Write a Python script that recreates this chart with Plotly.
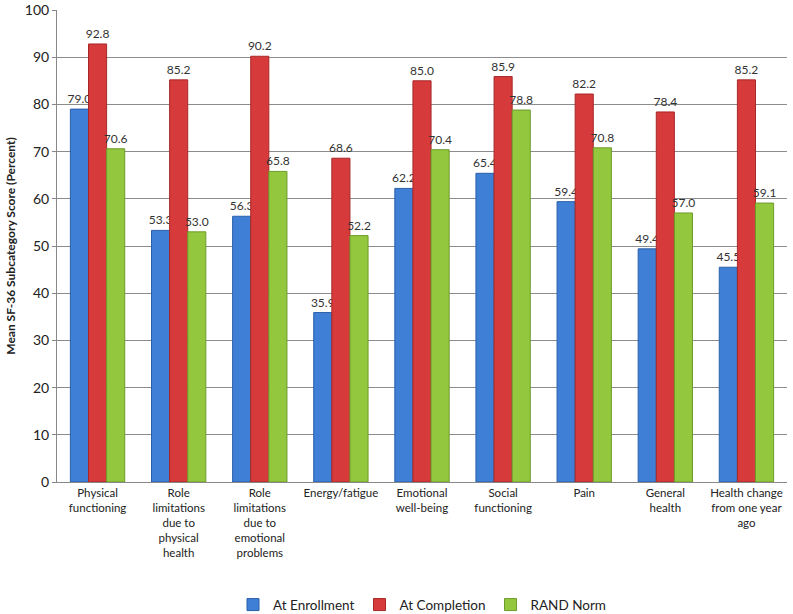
import plotly.graph_objects as go

categories = ["Physical<br>functioning", "Role<br>limitations<br>due to<br>physical<br>health",
              "Role<br>limitations<br>due to<br>emotional<br>problems", "Energy/fatigue",
              "Emotional<br>well-being", "Social<br>functioning", "Pain", "General<br>health",
              "Health change<br>from one year<br>ago"]
enrollment = [79.0, 53.3, 56.3, 35.9, 62.2, 65.4, 59.4, 49.4, 45.5]
completion = [92.8, 85.2, 90.2, 68.6, 85.0, 85.9, 82.2, 78.4, 85.2]
rand_norm = [70.6, 53.0, 65.8, 52.2, 70.4, 78.8, 70.8, 57.0, 59.1]

series = [("At Enrollment", enrollment, "#3F7FD6", "#2A5FA8"),
          ("At Completion", completion, "#D63A3A", "#A82828"),
          ("RAND Norm", rand_norm, "#93C83E", "#6E9A2A")]

FONT = "Lato, Open Sans, sans-serif"
fig = go.Figure()
for name, vals, col, edge in series:
    fig.add_trace(go.Bar(
        x=categories, y=vals, name=name,
        marker=dict(color=col, line=dict(color=edge, width=1)),
        text=[f"{v:.1f}" for v in vals], textposition="outside",
        textfont=dict(size=12, color="#333333", family=FONT),
        constraintext="none",
        cliponaxis=False,
    ))

fig.update_layout(
    width=793, height=614,
    margin=dict(l=57, r=6, t=10, b=132, autoexpand=False),
    paper_bgcolor="white", plot_bgcolor="white",
    barmode="group", bargap=0.33, bargroupgap=0.0,
    font=dict(family=FONT, size=12, color="#222222"),
    showlegend=True,
    legend=dict(orientation="h", x=0.5, xanchor="center", y=0.015, yref="container",
                yanchor="middle", font=dict(size=13.5, family=FONT), traceorder="normal"),
    xaxis=dict(showline=True, linecolor="#888888", tickfont=dict(size=11.5, family=FONT),
               ticks="", showgrid=False, automargin=False),
    yaxis=dict(range=[0, 100], dtick=10, showgrid=True, gridcolor="#8C8C8C",
               showline=True, linecolor="#888888", ticks="outside", ticklen=4,
               tickcolor="#888888", tickfont=dict(size=14, family=FONT), automargin=False,
               title=dict(text="<b>Mean SF-36 Subcategory Score (Percent)</b>",
                          font=dict(size=12, family=FONT), standoff=6)),
)
fig.write_html("out.html", config={"displayModeBar": False},
               post_script="document.body.style.margin='0';document.body.style.overflow='hidden';")
